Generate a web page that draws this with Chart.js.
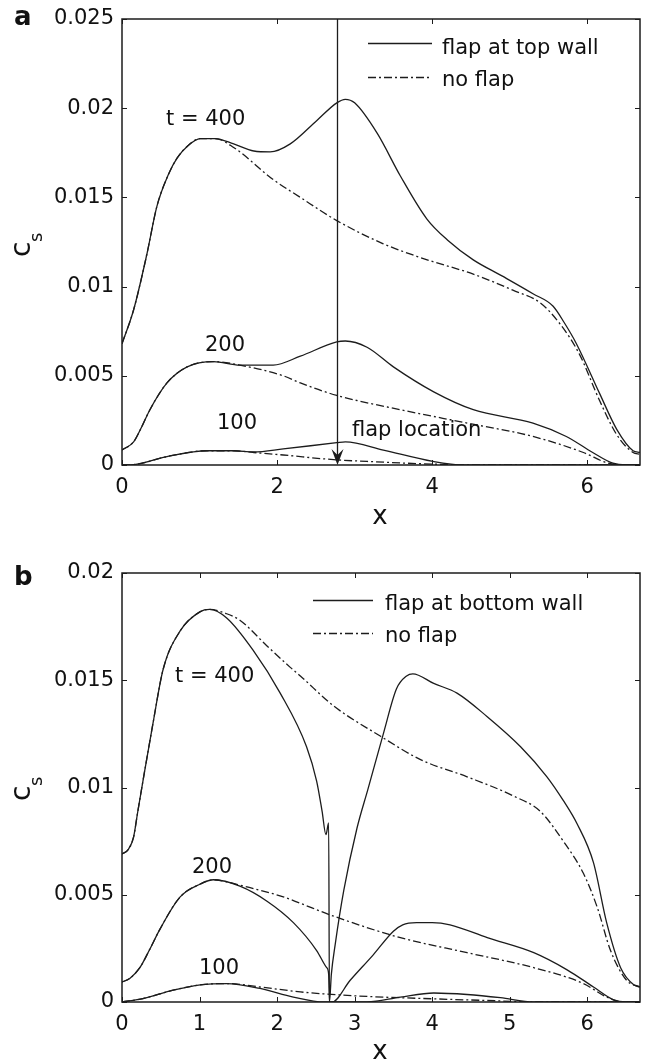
<!DOCTYPE html>
<html>
<head>
<meta charset="utf-8">
<script src="https://cdn.jsdelivr.net/npm/chart.js@4.4.1/dist/chart.umd.min.js"></script>
<style>
  body { margin: 0; background: #fff; }
  canvas { position: absolute; left: 0; }
  #chartA { top: 0; }
  #chartB { top: 532px; }
</style>
</head>
<body>
<canvas id="chartA" width="649" height="532"></canvas>
<canvas id="chartB" width="649" height="532"></canvas>
<script>
// panel a: flap at top wall
const xTicksA = [0, 2, 4, 6];
const yTicksA = [0, 0.005, 0.01, 0.015, 0.02, 0.025];
const yLabelsA = ['0', '0.005', '0.01', '0.015', '0.02', '0.025'];
const flapXA = 2.77;

const a400Flap = [[0, 0.0068], [0.15, 0.0087], [0.32, 0.0118], [0.45, 0.0145], [0.6, 0.0163], [0.71, 0.0172],
  [0.85, 0.0179], [1.01, 0.0183], [1.2, 0.0183], [1.44, 0.018], [1.7, 0.0176], [1.91, 0.01755], [2.17, 0.018],
  [2.51, 0.0193], [2.77, 0.0203], [2.88, 0.0205], [3.0, 0.0203], [3.29, 0.0186], [3.59, 0.0162], [3.93, 0.0138],
  [4.2, 0.0126], [4.53, 0.0115], [4.9, 0.0106], [5.3, 0.0096], [5.56, 0.0089], [5.7, 0.008], [5.86, 0.0068],
  [6.16, 0.004], [6.38, 0.002], [6.59, 0.0008], [6.68, 0.0007]];
const a400NoFlap = [[0, 0.0068], [0.15, 0.0087], [0.32, 0.0118], [0.45, 0.0145], [0.6, 0.0163], [0.71, 0.0172],
  [0.85, 0.0179], [1.01, 0.0183], [1.2, 0.0183], [1.44, 0.0178], [1.95, 0.016], [2.3, 0.015], [2.77, 0.0137],
  [3.37, 0.0124], [3.8, 0.0117], [4.01, 0.0114], [4.53, 0.0107], [5.04, 0.0098], [5.39, 0.0091], [5.65, 0.0079],
  [5.9, 0.0062], [6.16, 0.0036], [6.38, 0.0017], [6.59, 0.0007], [6.68, 0.0006]];
const a200Flap = [[0, 0.00084], [0.15, 0.0013], [0.25, 0.0021], [0.36, 0.0031], [0.58, 0.0046], [0.84, 0.0055],
  [1.18, 0.0058], [1.52, 0.0056], [1.95, 0.0056], [2.3, 0.0061], [2.77, 0.0069], [2.88, 0.00695], [3.16, 0.0066],
  [3.5, 0.0055], [4.02, 0.0041], [4.53, 0.0031], [5.3, 0.00235], [5.73, 0.0016], [6.07, 0.0007], [6.33, 0.0001],
  [6.5, 0], [6.68, 0]];
const a200NoFlap = [[0, 0.00084], [0.15, 0.0013], [0.25, 0.0021], [0.36, 0.0031], [0.58, 0.0046], [0.84, 0.0055],
  [1.18, 0.0058], [1.52, 0.0056], [2.08, 0.005], [2.3, 0.0046], [2.77, 0.0039], [3.59, 0.0031], [4.45, 0.00235],
  [5.3, 0.0016], [5.95, 0.0007], [6.27, 0.0001], [6.5, 0], [6.68, 0]];
const a100Flap = [[0, 0], [0.15, 0.00002], [0.58, 0.00047], [1.1, 0.0008], [1.44, 0.0008], [1.7, 0.00073],
  [2.08, 0.0009], [2.77, 0.00125], [2.88, 0.0013], [3.37, 0.00084], [4.01, 0.0002], [4.4, 0], [6.68, 0]];
const a100NoFlap = [[0, 0], [0.15, 0.00002], [0.58, 0.00047], [1.1, 0.0008], [1.44, 0.0008], [1.7, 0.0007],
  [2.08, 0.00056], [2.73, 0.0003], [3.16, 0.0002], [4.0, 0.00005], [4.5, 0], [6.68, 0]];

// panel b: flap at bottom wall
const xTicksB = [0, 1, 2, 3, 4, 5, 6];
const yTicksB = [0, 0.005, 0.01, 0.015, 0.02];
const yLabelsB = ['0', '0.005', '0.01', '0.015', '0.02'];

const b400Flap = [[0, 0.0069], [0.08, 0.0071], [0.15, 0.0077], [0.2, 0.0088], [0.27, 0.0103], [0.4, 0.013],
  [0.53, 0.0155], [0.75, 0.0173], [1.01, 0.0182], [1.13, 0.0183], [1.35, 0.0179], [1.69, 0.0164], [2.04, 0.0144],
  [2.38, 0.0119], [2.51, 0.0103], [2.58, 0.0089], [2.63, 0.0078], [2.665, 0.00835], [2.675, 0], [2.7, 0.0013],
  [2.75, 0.0027], [2.86, 0.0052], [3.03, 0.0081], [3.17, 0.0099], [3.37, 0.0125], [3.54, 0.0146], [3.67, 0.0152],
  [3.75, 0.0153], [4.02, 0.01485], [4.32, 0.0144], [4.71, 0.0133], [5.14, 0.0119], [5.48, 0.0105], [5.69, 0.0094],
  [5.87, 0.0083], [6.08, 0.0065], [6.25, 0.0037], [6.43, 0.0016], [6.6, 0.0008], [6.68, 0.0007]];
const b400NoFlap = [[0, 0.0069], [0.08, 0.0071], [0.15, 0.0077], [0.2, 0.0088], [0.27, 0.0103], [0.4, 0.013],
  [0.53, 0.0155], [0.75, 0.0173], [1.01, 0.0182], [1.13, 0.0183], [1.35, 0.0181], [1.52, 0.0178], [1.87, 0.0166],
  [2.17, 0.0156], [2.3, 0.0152], [2.73, 0.0138], [3.33, 0.0124], [3.85, 0.0113], [4.45, 0.0105], [5.05, 0.0096],
  [5.39, 0.0089], [5.69, 0.0075], [5.95, 0.006], [6.13, 0.0044], [6.3, 0.0024], [6.51, 0.001], [6.68, 0.0007]];
const b200Flap = [[0, 0.00093], [0.1, 0.0011], [0.23, 0.0016], [0.35, 0.0024], [0.49, 0.0034], [0.75, 0.0049],
  [1.01, 0.0055], [1.18, 0.0057], [1.52, 0.0054], [1.87, 0.0047], [2.21, 0.0037], [2.51, 0.0024], [2.64, 0.0016],
  [2.665, 0.0013], [2.675, 0], [2.71, 0], [2.94, 0.001], [3.24, 0.0022], [3.5, 0.0033], [3.62, 0.0036], [3.8, 0.0037],
  [4.0, 0.0037], [4.23, 0.0036], [4.71, 0.003], [5.31, 0.0023], [5.74, 0.0015], [6.08, 0.0007], [6.34, 0.0001],
  [6.5, 0], [6.68, 0]];
const b200NoFlap = [[0, 0.00093], [0.1, 0.0011], [0.23, 0.0016], [0.35, 0.0024], [0.49, 0.0034], [0.75, 0.0049],
  [1.01, 0.0055], [1.18, 0.0057], [1.35, 0.0056], [1.52, 0.00545], [2.08, 0.0049], [2.3, 0.0046], [2.73, 0.004],
  [3.59, 0.003], [4.45, 0.0023], [5.31, 0.0016], [5.95, 0.00086], [6.25, 0.00023], [6.45, 0], [6.68, 0]];
const b100Flap = [[0, 0], [0.27, 0.00016], [0.66, 0.00055], [1.01, 0.0008], [1.35, 0.00086], [1.78, 0.00063],
  [2.21, 0.00023], [2.6, 0], [3.16, 0], [3.59, 0.00023], [4.02, 0.00042], [4.45, 0.00035], [4.88, 0.0002],
  [5.31, 0], [6.68, 0]];
const b100NoFlap = [[0, 0], [0.27, 0.00016], [0.66, 0.00055], [1.01, 0.0008], [1.35, 0.00086], [1.78, 0.0007],
  [2.3, 0.00047], [2.64, 0.00037], [3.16, 0.00026], [4.0, 0.00015], [4.88, 0.00005], [5.3, 0], [6.68, 0]];

const ink = '#1c1c1c';
const font = '"DejaVu Sans", sans-serif';
const dashDot = [8, 3, 2, 3];

function series(points, dashed) {
  return {
    data: points.map(p => ({ x: p[0], y: p[1] })),
    borderColor: ink,
    borderWidth: 1.3,
    borderDash: dashed ? dashDot : [],
    pointRadius: 0,
    cubicInterpolationMode: 'monotone',
    fill: false
  };
}

function drawText(ctx, text, x, y, size, bold) {
  ctx.font = (bold ? 'bold ' : '') + size + 'px ' + font;
  ctx.fillText(text, x, y);
}

// box, inward ticks, legend, notes and labels
const figurePlugin = {
  id: 'figure',
  afterDraw(chart, args, opts) {
    const ctx = chart.ctx;
    const area = chart.chartArea;
    const xs = chart.scales.x;
    const ys = chart.scales.y;
    ctx.save();
    ctx.strokeStyle = ink;
    ctx.fillStyle = '#111';
    ctx.lineWidth = 1.5;
    ctx.strokeRect(area.left, area.top, area.right - area.left, area.bottom - area.top);

    ctx.lineWidth = 1;
    ctx.beginPath();
    xs.ticks.forEach(t => {
      const px = Math.round(xs.getPixelForValue(t.value)) + 0.5;
      ctx.moveTo(px, area.bottom); ctx.lineTo(px, area.bottom - 5);
      ctx.moveTo(px, area.top); ctx.lineTo(px, area.top + 5);
    });
    ys.ticks.forEach(t => {
      const py = Math.round(ys.getPixelForValue(t.value)) + 0.5;
      ctx.moveTo(area.left, py); ctx.lineTo(area.left + 5, py);
      ctx.moveTo(area.right, py); ctx.lineTo(area.right - 5, py);
    });
    ctx.stroke();

    // legend
    ctx.textAlign = 'left';
    ctx.textBaseline = 'alphabetic';
    opts.legend.forEach(item => {
      ctx.beginPath();
      ctx.lineWidth = 1.3;
      ctx.setLineDash(item.dashed ? dashDot : []);
      ctx.moveTo(item.x0, item.y); ctx.lineTo(item.x1, item.y);
      ctx.stroke();
      ctx.setLineDash([]);
      drawText(ctx, item.label, item.tx, item.ty, 21);
    });

    opts.notes.forEach(n => drawText(ctx, n.text, n.x, n.y, 21));

    // panel letter and axis titles
    drawText(ctx, opts.letter.text, opts.letter.x, opts.letter.y, 26, true);
    ctx.textAlign = 'center';
    drawText(ctx, 'x', opts.xTitle.x, opts.xTitle.y, 26);
    ctx.textAlign = 'left';
    ctx.save();
    ctx.translate(opts.yTitle.x, opts.yTitle.y);
    ctx.rotate(-Math.PI / 2);
    drawText(ctx, 'c', 0, 0, 28);
    drawText(ctx, 's', 15, 12, 18);
    ctx.restore();

    // flap location arrow
    if (opts.flapX !== undefined) {
      const fx = Math.round(xs.getPixelForValue(opts.flapX)) + 0.5;
      ctx.lineWidth = 1.3;
      ctx.beginPath();
      ctx.moveTo(fx, area.top); ctx.lineTo(fx, area.bottom - 4);
      ctx.stroke();
      ctx.beginPath();
      ctx.moveTo(fx, area.bottom);
      ctx.lineTo(fx - 6, area.bottom - 16);
      ctx.lineTo(fx, area.bottom - 10);
      ctx.lineTo(fx + 6, area.bottom - 16);
      ctx.closePath();
      ctx.fillStyle = ink;
      ctx.fill();
    }
    ctx.restore();
  }
};

function makeChart(id, sets, xTicks, yTicks, yLabels, box, fig) {
  return new Chart(document.getElementById(id), {
    type: 'line',
    data: { datasets: sets },
    plugins: [figurePlugin],
    options: {
      responsive: false,
      devicePixelRatio: 1,
      animation: false,
      layout: { padding: { top: box.top, right: 9, bottom: 0, left: 0 } },
      plugins: { legend: { display: false }, tooltip: { enabled: false }, figure: fig },
      scales: {
        x: {
          type: 'linear', min: 0, max: 6.68,
          grid: { display: false, drawTicks: false },
          border: { display: false },
          afterBuildTicks: s => { s.ticks = xTicks.map(v => ({ value: v })); },
          afterFit: s => { s.height = box.xHeight; s.paddingLeft = 0; s.paddingRight = 0; },
          ticks: {
            padding: 10, color: '#111', maxRotation: 0, autoSkip: false,
            font: { family: font, size: 21 },
            callback: v => String(v)
          }
        },
        y: {
          type: 'linear', min: 0, max: yTicks[yTicks.length - 1],
          grid: { display: false, drawTicks: false },
          border: { display: false },
          afterBuildTicks: s => { s.ticks = yTicks.map(v => ({ value: v })); },
          afterFit: s => { s.width = 122; s.paddingTop = 0; s.paddingBottom = 0; },
          ticks: {
            padding: 8, color: '#111', autoSkip: false,
            font: { family: font, size: 21 },
            callback: (v, i) => yLabels[i]
          }
        }
      }
    }
  });
}

makeChart('chartA',
  [series(a400NoFlap, true), series(a200NoFlap, true), series(a100NoFlap, true),
   series(a400Flap, false), series(a200Flap, false), series(a100Flap, false)],
  xTicksA, yTicksA, yLabelsA,
  { top: 19, xHeight: 67 },
  {
    letter: { text: 'a', x: 14, y: 25 },
    xTitle: { x: 380, y: 524 },
    yTitle: { x: 30, y: 257 },
    flapX: flapXA,
    legend: [
      { label: 'flap at top wall', dashed: false, x0: 368, x1: 432, y: 43.5, tx: 442, ty: 54 },
      { label: 'no flap', dashed: true, x0: 368, x1: 432, y: 77.5, tx: 442, ty: 86 }
    ],
    notes: [
      { text: 't = 400', x: 166, y: 125 },
      { text: '200', x: 205, y: 351 },
      { text: '100', x: 217, y: 429 },
      { text: 'flap location', x: 352, y: 436 }
    ]
  });

makeChart('chartB',
  [series(b400NoFlap, true), series(b200NoFlap, true), series(b100NoFlap, true),
   series(b400Flap, false), series(b200Flap, false), series(b100Flap, false)],
  xTicksB, yTicksB, yLabelsB,
  { top: 41, xHeight: 62 },
  {
    letter: { text: 'b', x: 14, y: 53 },
    xTitle: { x: 380, y: 527 },
    yTitle: { x: 30, y: 269 },
    legend: [
      { label: 'flap at bottom wall', dashed: false, x0: 313, x1: 373, y: 68.5, tx: 385, ty: 78 },
      { label: 'no flap', dashed: true, x0: 313, x1: 373, y: 101.5, tx: 385, ty: 110 }
    ],
    notes: [
      { text: 't = 400', x: 175, y: 150 },
      { text: '200', x: 192, y: 341 },
      { text: '100', x: 199, y: 442 }
    ]
  });
</script>
</body>
</html>
